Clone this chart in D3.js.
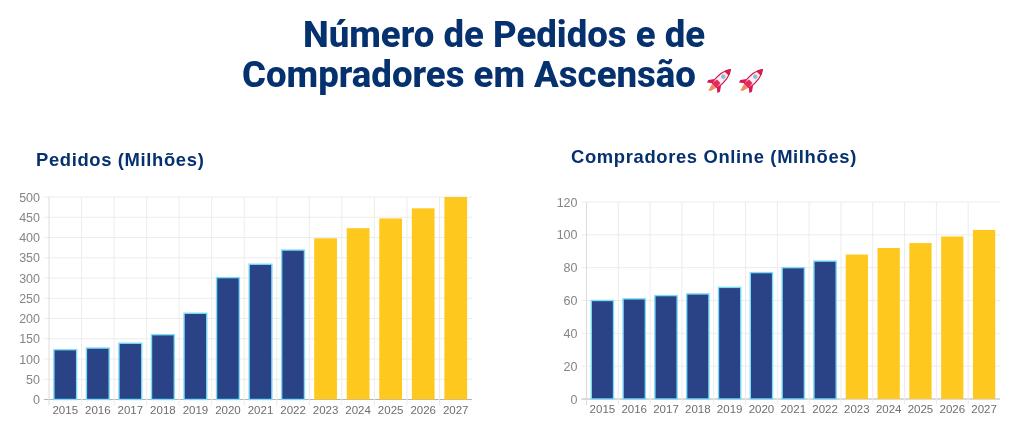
<!DOCTYPE html>
<html><head><meta charset="utf-8">
<script src="https://cdn.jsdelivr.net/npm/d3@7"></script>
<style>html,body{margin:0;padding:0;background:#fff;overflow:hidden}svg{display:block;filter:blur(0.4px)}</style>
</head><body><svg id="c" width="1024" height="448"></svg>
<script>
const years=["2015","2016","2017","2018","2019","2020","2021","2022","2023","2024","2025","2026","2027"];
const pedidos=[123,127,139,160,213,301,334,369,398,423,447,472,500];
const compradores=[60,61,63,64,68,77,80,84,88,92,95,99,103];
const pedidosTicks=[0,50,100,150,200,250,300,350,400,450,500];
const compradoresTicks=[0,20,40,60,80,100,120];
const titleLines=["Número de Pedidos e de","Compradores em Ascensão"];
const pedidosTitle="Pedidos (Milhões)";
const compradoresTitle="Compradores Online (Milhões)";
const lastActual="2022";

const svg=d3.select("#c");
const navy="#06316f";

svg.selectAll("text.title").data(titleLines).join("text").attr("class","title")
 .attr("x",(d,i)=>i?469:504).attr("y",(d,i)=>i?87:47).attr("text-anchor","middle")
 .attr("font-family","Roboto").attr("font-weight",800).attr("font-size",36.6).attr("fill",navy).text(d=>d);

function rocket(x,y){
 const g=svg.append("g").attr("transform",`translate(${x},${y}) rotate(45) scale(0.92)`);
 g.append("path").attr("d","M-3,9 L3,9 L1.5,15 L-1,17 Z").attr("fill","#f58a5a");
 g.append("path").attr("d","M-4,2 L-9,9 L-8,12 L-3,8 Z M4,2 L9,9 L8,12 L3,8 Z").attr("fill","#d81b4c");
 g.append("path").attr("d","M0,-16 C5,-10 5.5,-2 4,8 L-4,8 C-5.5,-2 -5,-10 0,-16 Z").attr("fill","#fbeef0").attr("stroke","#d81b4c").attr("stroke-width",1.2);
 g.append("path").attr("d","M0,-16 C2,-14 3,-12 3.6,-10 L-3.6,-10 C-3,-12 -2,-14 0,-16 Z").attr("fill","#d81b4c");
 g.append("path").attr("d","M-2.6,2 L2.6,2 L3.6,9 L-3.6,9 Z").attr("fill","#e8285a");
 g.append("circle").attr("cy",-5).attr("r",2.5).attr("fill","#8dbfe6");
}
rocket(720,80);rocket(752,80);

function chart(o){
 const x=d3.scaleBand().domain(years).range([o.x0,o.x1]).paddingInner(0.30).paddingOuter(0.15);
 const step=(o.x1-o.x0)/years.length;
 const y=d3.scaleLinear().domain([0,o.max]).range([o.y0,o.y1]);
 const g=svg.append("g");
 g.append("g").selectAll("line").data(o.ticks).join("line")
  .attr("x1",o.x0-5).attr("x2",o.x1).attr("y1",d=>y(d)).attr("y2",d=>y(d))
  .attr("stroke",d=>d===0?"#b4b4b4":"#ececec").attr("stroke-width",1);
 g.append("g").selectAll("line").data(d3.range(years.length)).join("line")
  .attr("x1",i=>o.x0+i*step).attr("x2",i=>o.x0+i*step)
  .attr("y1",o.y1).attr("y2",o.y0+6)
  .attr("stroke",i=>i===0?"#dcdcdc":"#ececec");
 g.append("g").selectAll("rect").data(years).join("rect")
  .attr("x",d=>x(d)).attr("width",x.bandwidth())
  .attr("y",(d,i)=>y(o.values[i])).attr("height",(d,i)=>o.y0-y(o.values[i]))
  .attr("fill",d=>d<=lastActual?"#2a4386":"#ffc81f")
  .attr("stroke",d=>d<=lastActual?"#7bdcf8":"none").attr("stroke-width",1.4);
 const ax=d3.axisBottom(x).tickSize(0).tickPadding(0);
 const xg=g.append("g").attr("transform",`translate(0,${o.y0})`).call(ax);
 xg.select(".domain").remove();
 xg.selectAll("text").attr("y",14).attr("dy",0).attr("font-family","Liberation Sans").attr("font-size",11.5).attr("fill","#6e6e6e");
 const ay=d3.axisLeft(y).tickValues(o.ticks).tickSize(0).tickPadding(0).tickFormat(d3.format("d"));
 const yg=g.append("g").attr("transform",`translate(${o.x0-9},0)`).call(ay);
 yg.select(".domain").remove();
 yg.selectAll("text").attr("font-family","Liberation Sans").attr("font-size",12.5).attr("fill","#858585");
 svg.append("text").attr("x",o.tx).attr("y",o.ty).attr("font-family","Liberation Sans").attr("font-weight",700)
  .attr("font-size",18.4).attr("letter-spacing",0.65).attr("fill",navy).text(o.title);
}
chart({x0:49,x1:472,y0:399.5,y1:197,max:500,values:pedidos,ticks:pedidosTicks,title:pedidosTitle,tx:36,ty:166});
chart({x0:586.5,x1:1000,y0:399,y1:202,max:120,values:compradores,ticks:compradoresTicks,title:compradoresTitle,tx:571,ty:163});
</script></body></html>
